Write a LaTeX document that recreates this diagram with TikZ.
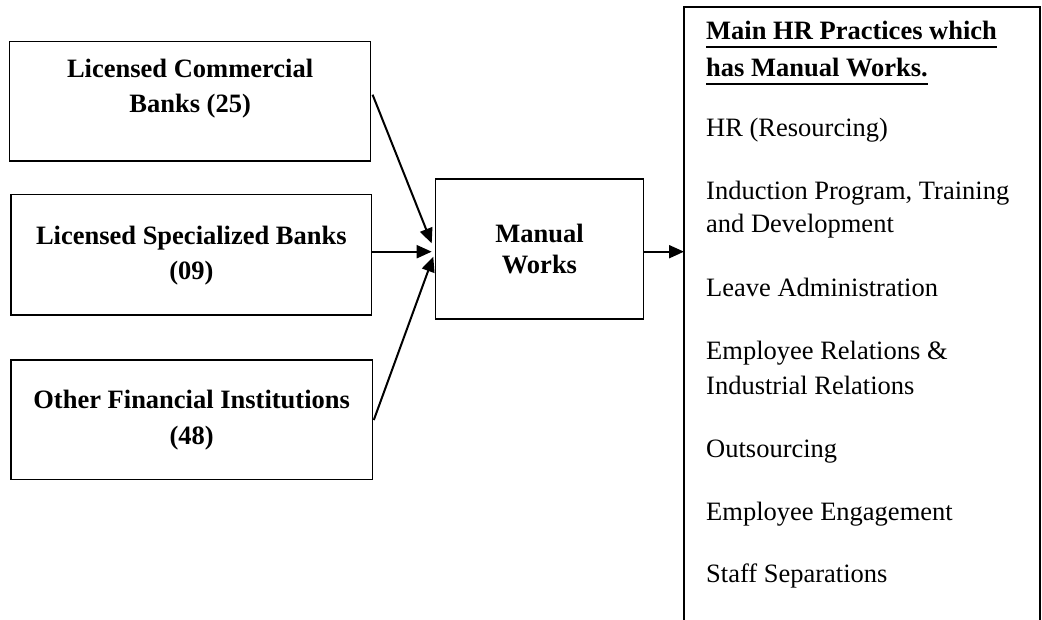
\documentclass[tikz,border=0pt]{standalone}
\usepackage{fontspec}
\setmainfont{Liberation Serif}
\usetikzlibrary{arrows.meta,calc}

\tikzset{
  box/.style={draw, line width=1.5pt, rectangle, inner sep=0pt, outer sep=0pt},
  bline/.style={font=\fontsize{26.5}{35}\selectfont\bfseries, inner sep=0pt, anchor=base},
  item/.style={font=\fontsize{26.5}{35}\selectfont, inner sep=0pt, anchor=base west},
  head/.style={item, font=\fontsize{26.5}{35}\selectfont\bfseries},
  flow/.style={line width=2pt, -{Triangle[length=15pt, width=13pt]}},
  uline/.style={line width=2pt}
}

\begin{document}
\begin{tikzpicture}[x=1pt, y=-1pt]
\useasboundingbox (0,0) rectangle (1042,620);

% source institutions
\node[box, minimum width=361pt, minimum height=119.3pt] (lcb) at (190.1,101.35) {};
\node[bline] (lcb1) at (190.1,78) {Licensed Commercial};
\node[bline] (lcb2) at (190.1,113) {Banks (25)};

\node[box, minimum width=360.7pt, minimum height=120.7pt] (lsb) at (191.35,254.65) {};
\node[bline] (lsb1) at (191.35,245) {Licensed Specialized Banks};
\node[bline] (lsb2) at (191.35,280) {(09)};

\node[box, minimum width=361.3pt, minimum height=119.3pt] (ofi) at (191.65,419.65) {};
\node[bline] (ofi1) at (191.65,409) {Other Financial Institutions};
\node[bline] (ofi2) at (191.65,444) {(48)};

% central box
\node[box, minimum width=207.6pt, minimum height=140pt] (mw) at (539.5,249) {};
\node[bline] (mw1) at (539.5,242.7) {Manual};
\node[bline] (mw2) at (539.5,274) {Works};

% list of HR practices (runs off the bottom edge)
\node[box, minimum width=356pt, minimum height=640pt, anchor=north west] (hr) at (684,7) {};
\node[head] (h1) at (706,40) {Main HR Practices which};
\node[head] (h2) at (706,77) {has Manual Works.};
\draw[uline] ($(h1.base west)+(0,7)$) -- ($(h1.base east)+(0,7)$);
\draw[uline] ($(h2.base west)+(0,7)$) -- ($(h2.base east)+(0,7)$);
\node[item] (p1) at (706,137) {HR (Resourcing)};
\node[item] (p2a) at (706,200) {Induction Program, Training};
\node[item] (p2b) at (706,233) {and Development};
\node[item] (p3) at (706,297) {Leave Administration};
\node[item] (p4a) at (706,360) {Employee Relations \&};
\node[item] (p4b) at (706,395) {Industrial Relations};
\node[item] (p5) at (706,457) {Outsourcing};
\node[item] (p6) at (706,520) {Employee Engagement};
\node[item] (p7) at (706,582) {Staff Separations};

% connectors
\coordinate (in2) at ($(mw.west)+(-4,2.7)$);
\draw[flow] ($(lcb.north east)+(2,53)$) -- ($(mw.west)+(-4,-5.7)$);
\draw[flow] (in2 -| lsb.east) -- (in2);
\draw[flow] ($(ofi.north east)+(1.5,60)$) -- ($(mw.west)+(-2.4,7.7)$);
\coordinate (out) at ($(mw.east)+(0,2.7)$);
\draw[flow] (out) -- (out -| hr.west);
\end{tikzpicture}
\end{document}
